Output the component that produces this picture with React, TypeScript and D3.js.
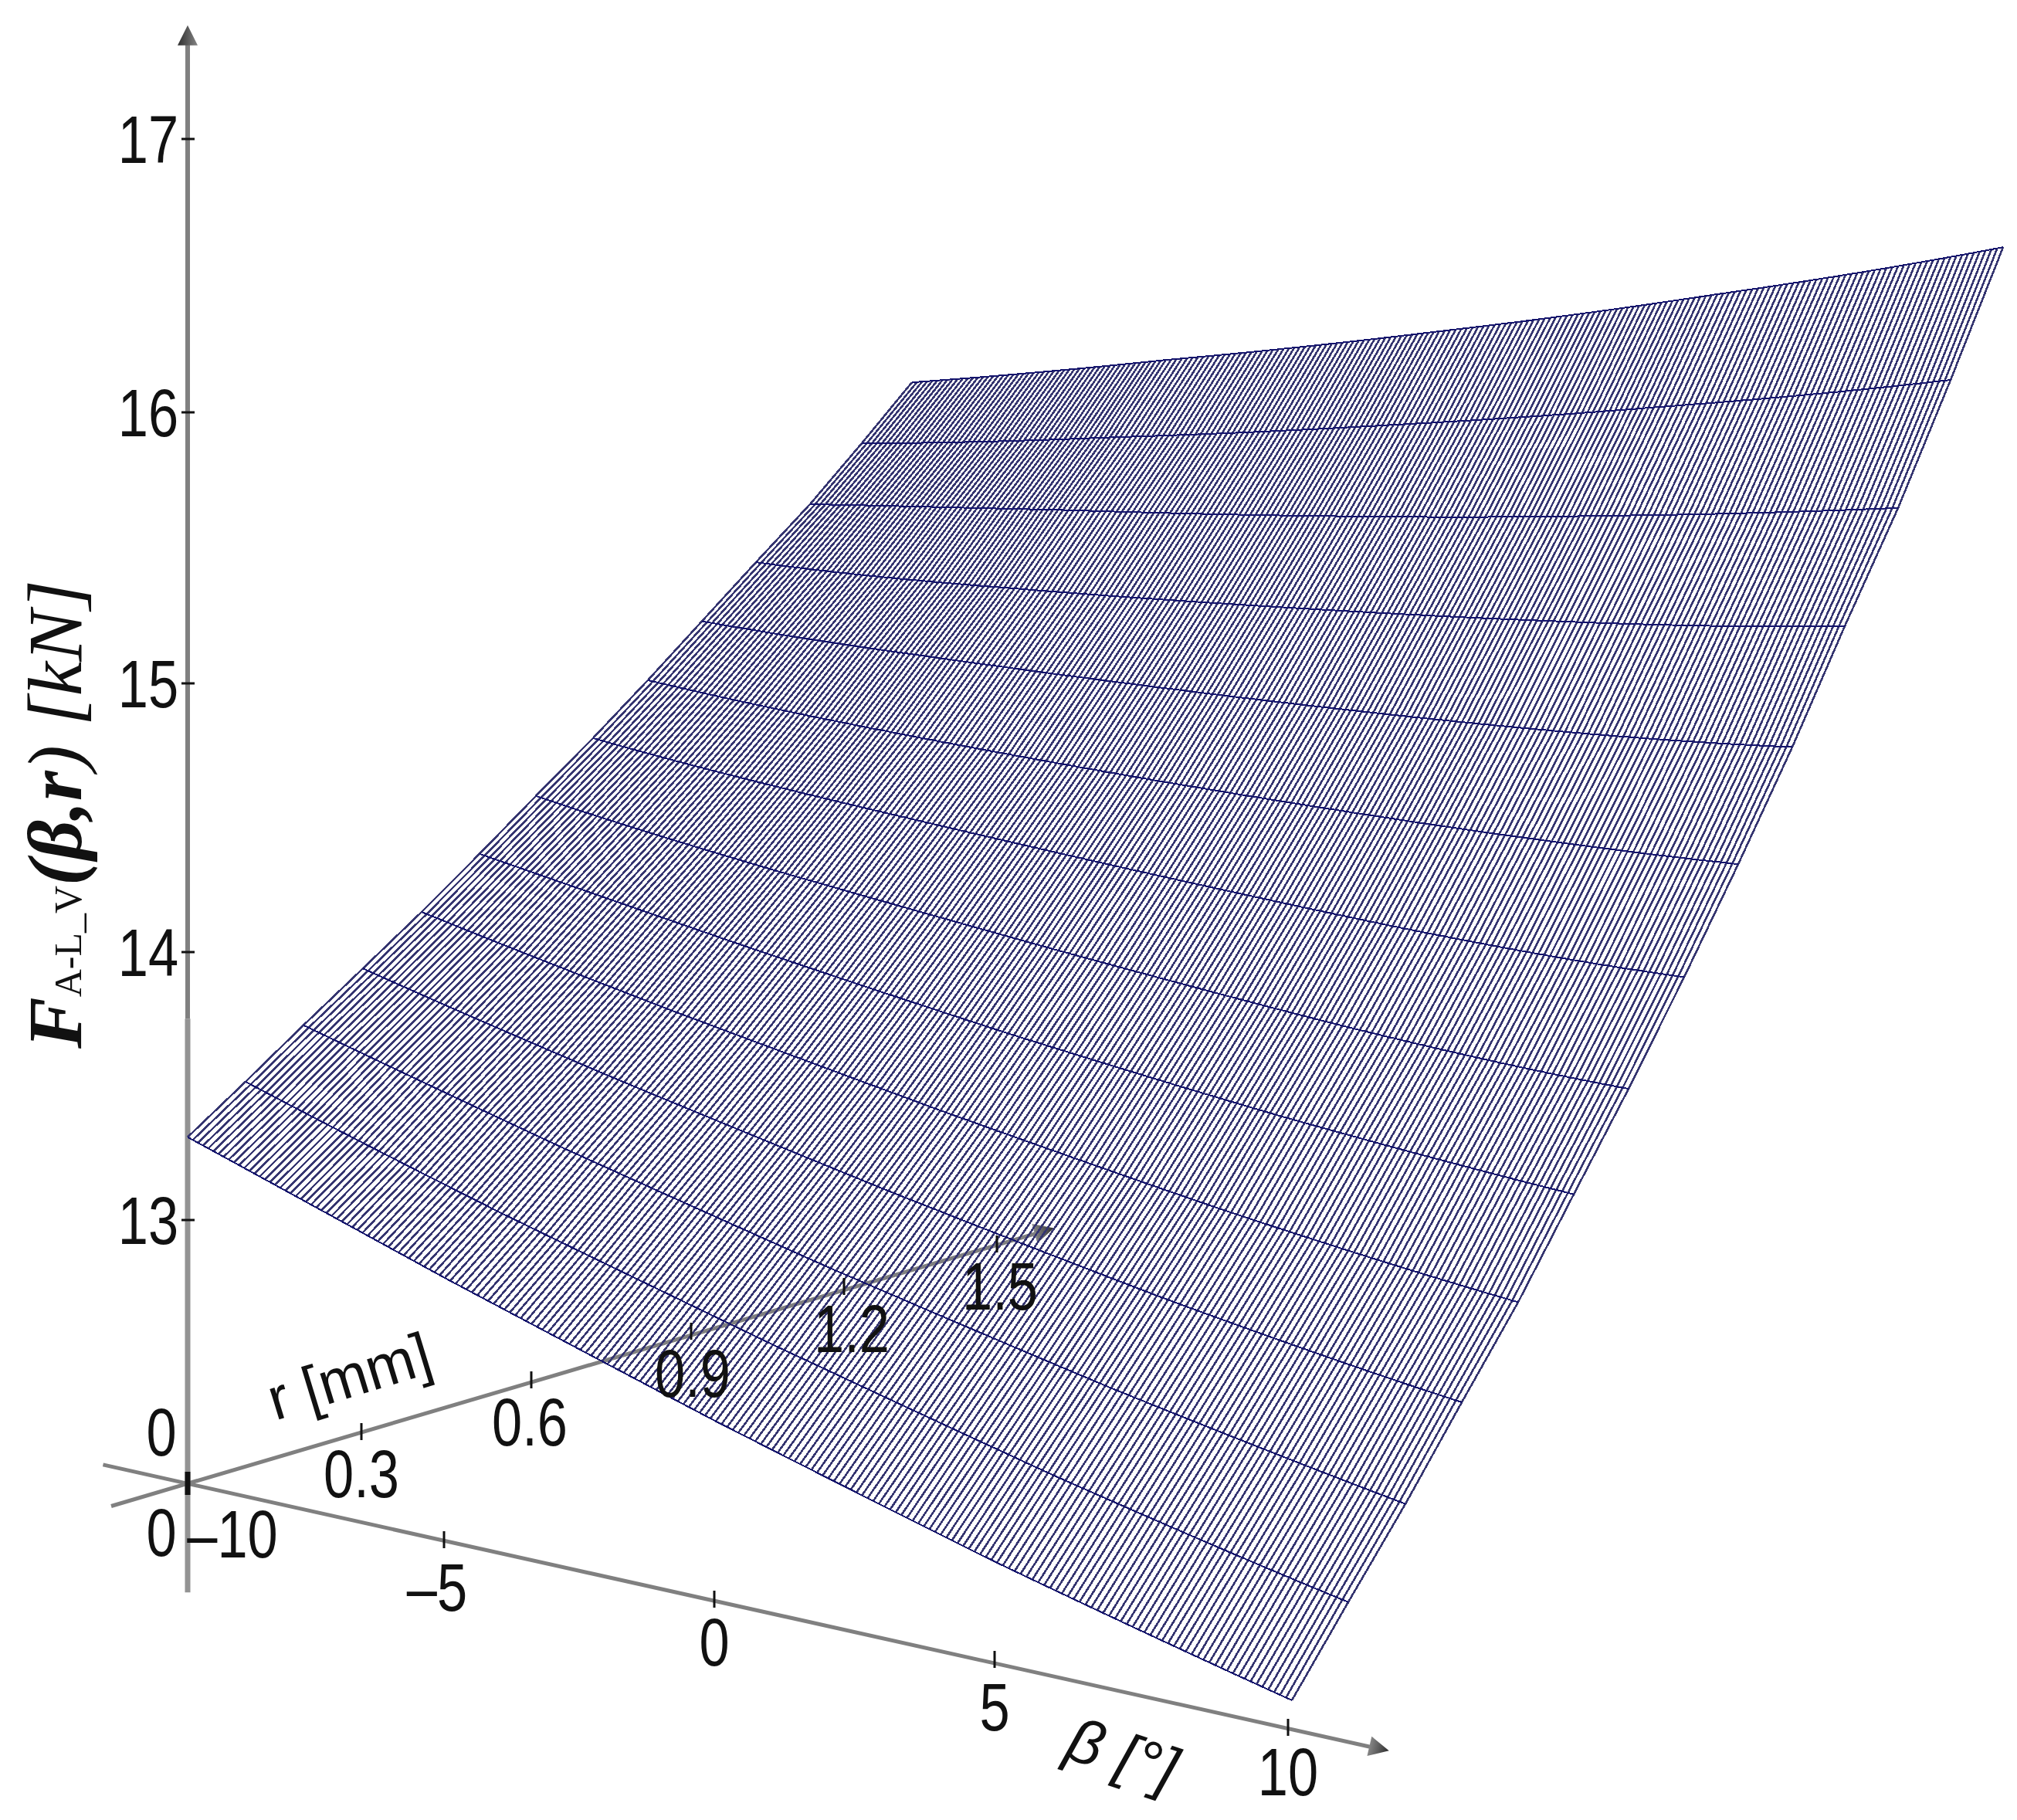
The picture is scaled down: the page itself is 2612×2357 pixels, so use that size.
import React, { useEffect, useRef } from 'react';
import * as d3 from 'd3';

// Values
const betaTicks = [-10, -5, 0, 5, 10];
const rTicks = [0.3, 0.6, 0.9, 1.2, 1.5];
const forceTicks = [13, 14, 15, 16, 17];
const rValues = [0, 0.1, 0.2, 0.3, 0.4, 0.5, 0.6, 0.7, 0.8, 0.9, 1.0, 1.1, 1.2, 1.3];

// F [kN] per r row, at beta = -10, -5, 0, 5, 10
const forceRows = [
  [13.312, 13.0, 12.69, 12.39, 12.11],
  [13.454, 13.175, 12.91, 12.65, 12.41],
  [13.6, 13.36, 13.13, 12.91, 12.71],
  [13.744, 13.54, 13.35, 13.17, 13.02],
  [13.893, 13.73, 13.58, 13.44, 13.33],
  [14.039, 13.92, 13.81, 13.72, 13.66],
  [14.193, 14.11, 14.05, 14.0, 13.99],
  [14.344, 14.31, 14.3, 14.3, 14.34],
  [14.501, 14.51, 14.55, 14.61, 14.7],
  [14.656, 14.72, 14.81, 14.92, 15.07],
  [14.817, 14.93, 15.08, 15.25, 15.46],
  [14.98, 15.167, 15.364, 15.588, 15.845],
  [15.148, 15.379, 15.642, 15.933, 16.261],
  [15.322, 15.613, 15.936, 16.295, 16.7],
];

const WIDTH = 2612;
const HEIGHT = 2357;
const ORIGIN_X = 243;
const ORIGIN_Y = 1921;
const AXIS_GREY = '#808080';
const MESH_COLOR = '#35356f';

// Smooth curve through a row of table values
const rowValue = (row: number[], beta: number) =>
  d3.sum(row, (v, i) => {
    let weight = v;
    betaTicks.forEach((b, j) => {
      if (j !== i) weight *= (beta - b) / (betaTicks[i] - b);
    });
    return weight;
  });

const App = () => {
  const ref = useRef<SVGSVGElement | null>(null);

  useEffect(() => {
    const svg = d3.select(ref.current);
    svg.selectAll('*').remove();

    // The drawing is a hand-placed oblique view, so each axis has its own x and y scale
    const yForce = d3.scaleLinear().domain([13, 17]).range([1582, 180]);
    const yTicks = d3.scaleLinear().domain(forceTicks).range([1580, 1233, 885, 534, 180]);
    const betaX = d3.scaleLinear().domain(betaTicks).range([ORIGIN_X, 575, 925, 1288, 1668]);
    const betaY = d3.scaleLinear().domain(betaTicks).range([ORIGIN_Y, 1994, 2071, 2149, 2237]);
    const surfaceBetaX = d3.scaleLinear().domain(betaTicks).range([ORIGIN_X, 576, 927, 1291, 1673]);
    const surfaceBetaY = d3.scaleLinear().domain(betaTicks).range([ORIGIN_Y, 1994, 2071, 2149, 2229]);
    const rX = d3.scaleLinear().domain([0, ...rTicks]).range([ORIGIN_X, 468, 688, 895, 1093, 1291]);
    const rY = d3.scaleLinear().domain([0, ...rTicks]).range([ORIGIN_Y, 1854, 1787, 1724, 1666, 1611]);

    // Sideways shift of the surface per r, at its left and right edge
    const shiftLeft = d3.scaleLinear().domain(rValues)
      .range([0, 75, 150, 227, 303, 378, 451, 525, 596, 666, 736, 806, 873, 938]);
    const shiftRight = d3.scaleLinear().domain(rValues)
      .range([0, 73, 147, 220, 293, 365, 436, 508, 578, 648, 716, 785, 853, 921]);
    const rOffsetY = d3.scaleLinear().domain(rValues)
      .range([0, -22, -44, -67, -88, -112, -133, -155, -175, -197, -217, -235, -255, -273]);
    const betaT = d3.scaleLinear().domain([-10, 10]).range([0, 1]);

    const project = (beta: number, rIndex: number): [number, number] => {
      const r = rValues[rIndex];
      const t = betaT(beta);
      const shift = shiftLeft(r) * (1 - t) + shiftRight(r) * t;
      return [
        surfaceBetaX(beta) + shift,
        yForce(rowValue(forceRows[rIndex], beta)) + (surfaceBetaY(beta) - ORIGIN_Y) + rOffsetY(r),
      ];
    };

    const defs = svg.append('defs');
    const gradient = (id: string, x2: number, y2: number) => {
      const g = defs.append('linearGradient').attr('id', id)
        .attr('x1', 0).attr('y1', y2 ? 1 : 0).attr('x2', x2).attr('y2', 0);
      g.append('stop').attr('offset', 0).attr('stop-color', '#858585');
      g.append('stop').attr('offset', 1).attr('stop-color', '#2e2e2e');
    };
    gradient('arrowUp', 0, 1);
    gradient('arrowSide', 1, 0);

    // The original mesh was resampled, a slight blur gives the same soft moire
    defs.append('filter').attr('id', 'soften')
      .attr('filterUnits', 'userSpaceOnUse')
      .attr('x', 0).attr('y', 0).attr('width', WIDTH).attr('height', HEIGHT)
      .append('feGaussianBlur').attr('stdDeviation', 0.5);

    const arrowHead = (x: number, y: number, angle: number, fill: string) => {
      svg.append('path')
        .attr('d', 'M0,0L-26,-13L-26,13Z')
        .attr('transform', `translate(${x},${y}) rotate(${angle})`)
        .attr('fill', fill);
    };

    // Axes sit under the mesh
    const axisLine = (x1: number, y1: number, x2: number, y2: number, w: number, c = AXIS_GREY) => {
      svg.append('line').attr('x1', x1).attr('y1', y1).attr('x2', x2).attr('y2', y2)
        .attr('stroke', c).attr('stroke-width', w);
    };

    const yTop = yForce(17.42);
    axisLine(ORIGIN_X, yTop + 20, ORIGIN_X, yForce(13.75), 6);
    axisLine(ORIGIN_X, yForce(13.75), ORIGIN_X, yForce(11.63), 7, '#939393');
    arrowHead(ORIGIN_X, yTop, -90, 'url(#arrowUp)');

    const betaEnds = [-11.65, 11.72];
    axisLine(betaX(betaEnds[0]), betaY(betaEnds[0]), betaX(betaEnds[1]) - 20, betaY(betaEnds[1]) - 4, 5);
    const betaAngle = Math.atan2(betaY(10) - betaY(5), betaX(10) - betaX(5)) * 180 / Math.PI;
    arrowHead(betaX(betaEnds[1]), betaY(betaEnds[1]), betaAngle, 'url(#arrowSide)');

    const rEnds = [-0.132, 1.612];
    axisLine(rX(rEnds[0]), rY(rEnds[0]), rX(rEnds[1]) - 20, rY(rEnds[1]) + 6, 5);
    const rAngle = Math.atan2(rY(1.5) - rY(1.2), rX(1.5) - rX(1.2)) * 180 / Math.PI;
    arrowHead(rX(rEnds[1]), rY(rEnds[1]), rAngle, 'url(#arrowSide)');

    // Surface: fine lines of constant beta, then the heavier lines of constant r
    const meshBetas = d3.range(0, 201).map(i => -10 + i * 0.1);
    const line = d3.line();
    const meshPath = meshBetas
      .map(beta => line(rValues.map((_, i) => project(beta, i))))
      .join('');
    svg.append('path').attr('d', meshPath).attr('fill', 'none')
      .attr('stroke', MESH_COLOR).attr('stroke-width', 2.6)
      .attr('shape-rendering', 'crispEdges')
      .attr('filter', 'url(#soften)');

    const rowPath = rValues
      .map((_, i) => line(meshBetas.map(beta => project(beta, i))))
      .join('');
    svg.append('path').attr('d', rowPath).attr('fill', 'none')
      .attr('stroke', '#14146c').attr('stroke-width', 2)
      .attr('shape-rendering', 'crispEdges');

    // Ticks
    const tickStyle = (sel: any, w: number) => sel.attr('stroke', '#111').attr('stroke-width', w);
    forceTicks.forEach(f => {
      tickStyle(svg.append('line').attr('x1', ORIGIN_X - 8).attr('x2', ORIGIN_X + 9)
        .attr('y1', yTicks(f)).attr('y2', yTicks(f)), 3);
    });
    betaTicks.slice(1).forEach(b => {
      tickStyle(svg.append('line').attr('x1', betaX(b)).attr('x2', betaX(b))
        .attr('y1', betaY(b) - 11).attr('y2', betaY(b) + 11), 3);
    });
    rTicks.forEach(r => {
      tickStyle(svg.append('line').attr('x1', rX(r)).attr('x2', rX(r))
        .attr('y1', rY(r) - 11).attr('y2', rY(r) + 11), 3);
    });
    tickStyle(svg.append('line').attr('x1', ORIGIN_X).attr('x2', ORIGIN_X)
      .attr('y1', ORIGIN_Y - 15).attr('y2', ORIGIN_Y + 15), 7);

    // Arial-like digits, squeezed sideways as in the picture
    const digit = (label: string, x: number, y: number) => {
      svg.append('text')
        .attr('transform', `translate(${x},${y}) scale(0.8,1)`)
        .attr('text-anchor', 'middle')
        .attr('font-family', '"Liberation Sans", Arial, sans-serif')
        .attr('font-size', 88)
        .attr('fill', '#111')
        .text(label);
    };

    forceTicks.forEach(f => digit(String(f), 192, yTicks(f) + 31));
    digit('0', 209, 1885);
    digit('0', 209, 2015);

    const betaLabelDx = [58, -9, 0, 0, 0];
    const betaLabelDy = [96, 92, 86, 92, 88];
    betaTicks.forEach((b, i) => {
      digit(String(b).replace('-', '–'), betaX(b) + betaLabelDx[i], betaY(b) + betaLabelDy[i]);
    });

    const rLabelDx = [0, -2, 2, 10, 4];
    rTicks.forEach((r, i) => digit(r.toFixed(1), rX(r) + rLabelDx[i], rY(r) + 85));

    // Axis titles
    svg.append('text')
      .attr('transform', 'translate(460,1808) rotate(-17) scale(0.98,1)')
      .attr('text-anchor', 'middle')
      .attr('font-family', '"Liberation Sans", Arial, sans-serif')
      .attr('font-size', 78)
      .attr('fill', '#111')
      .text('r [mm]');

    svg.append('text')
      .attr('transform', 'translate(1445,2298) rotate(18)')
      .attr('text-anchor', 'middle')
      .attr('font-family', '"Liberation Sans", Arial, sans-serif')
      .attr('font-style', 'italic')
      .attr('font-size', 80)
      .attr('fill', '#111')
      .text('β [°]');

    const yTitle = svg.append('text')
      .attr('transform', 'translate(105,1358) rotate(-90)')
      .attr('font-family', '"Liberation Serif", "Times New Roman", serif')
      .attr('font-size', 100)
      .attr('fill', '#111');
    yTitle.append('tspan').attr('font-weight', 700).attr('font-style', 'italic').text('F');
    yTitle.append('tspan').attr('font-size', 50).text('A-L_V');
    yTitle.append('tspan').attr('font-weight', 700).attr('font-style', 'italic').text('(β,');
    yTitle.append('tspan').attr('font-weight', 700).attr('font-style', 'italic').text('r');
    yTitle.append('tspan').attr('font-style', 'italic').text(') [kN]');
  }, []);

  return (
    <svg
      ref={ref}
      width={WIDTH}
      height={HEIGHT}
      style={{ position: 'absolute', left: 0, top: 0, display: 'block', background: '#fff' }}
    />
  );
};

export default App;
